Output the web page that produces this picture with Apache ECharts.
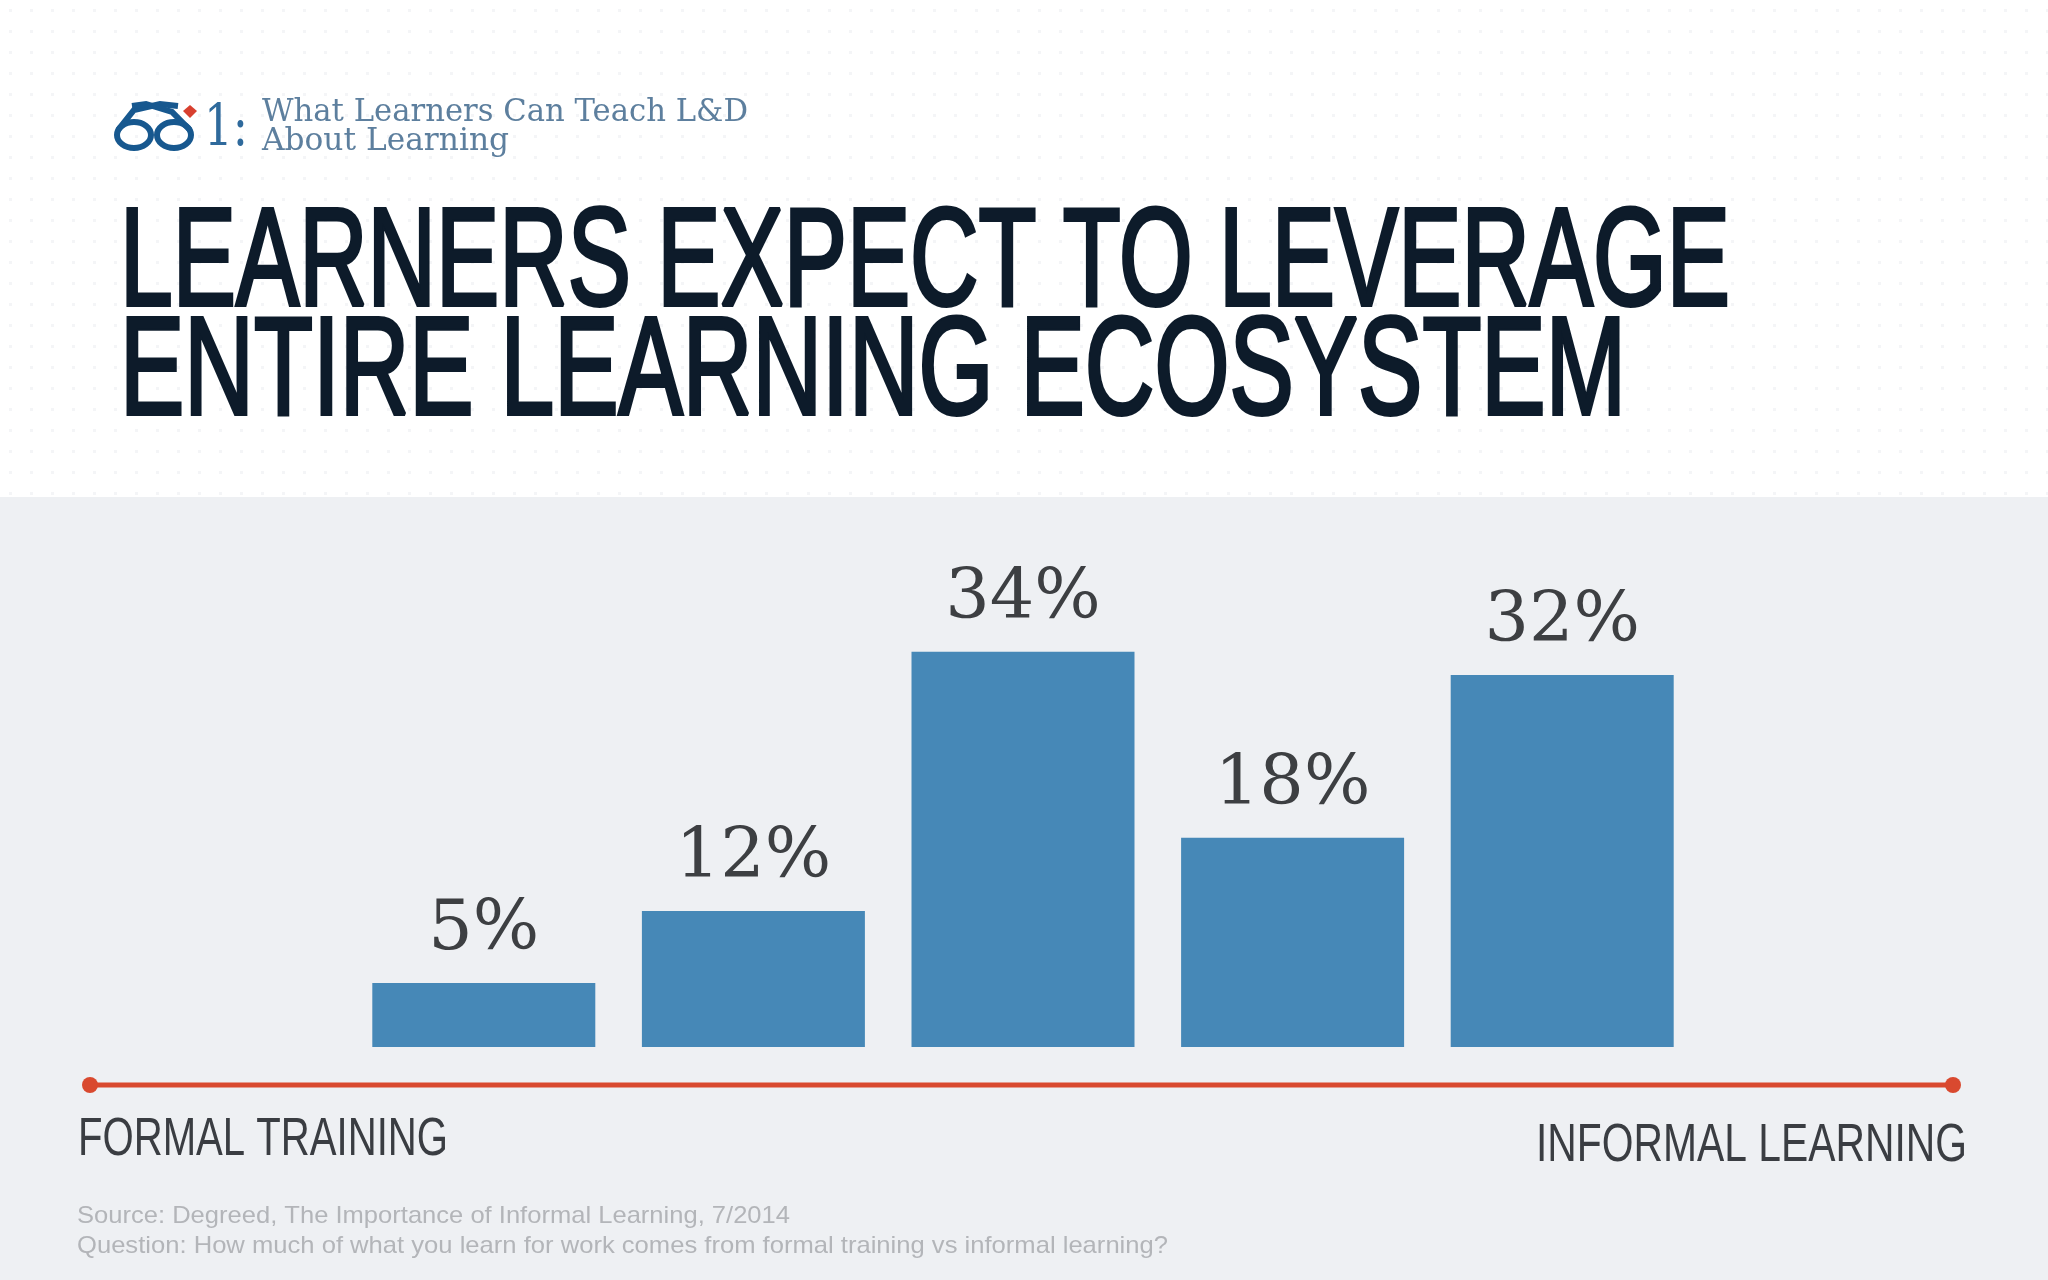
<!DOCTYPE html>
<html>
<head>
<meta charset="utf-8">
<style>
  html, body { margin: 0; padding: 0; background: #fff; }
  #chart { width: 2048px; height: 1280px; }
</style>
<script src="https://cdn.jsdelivr.net/npm/echarts@6/dist/echarts.min.js"></script>
</head>
<body>
<div id="chart"></div>
<script>
const categories = ['Level 1', 'Level 2', 'Level 3', 'Level 4', 'Level 5']
// printed percentages, and the bar lengths as measured on the picture
const shareLabels = [5, 12, 34, 18, 32]
const barLengths = [5.5, 11.7, 34, 18, 32]
const titleLines = ['LEARNERS EXPECT TO LEVERAGE', 'ENTIRE LEARNING ECOSYSTEM']
const headerLines = ['What Learners Can Teach L&D', 'About Learning']
const sourceLines = [
  'Source: Degreed, The Importance of Informal Learning, 7/2014',
  'Question: How much of what you learn for work comes from formal training vs informal learning?',
]

const chart = echarts.init(document.getElementById('chart'))

const blue = '#17588f'
const red = '#d9492f'
const ink = '#0d1b2a'
const sans = '"Liberation Sans", sans-serif'
const serif = '"DejaVu Serif", serif'

// no condensed font is installed, so squeeze the text to the width it has in the picture
const measure = document.createElement('canvas').getContext('2d')
const fitText = (text, font, x, y, width, fill, extraStyle) => {
  measure.font = font
  return {
    type: 'text',
    x,
    y,
    scaleX: width / measure.measureText(text).width,
    style: { text, font, fill, ...extraStyle },
  }
}

// faint dot pattern behind the heading
const dots = document.createElement('canvas')
dots.width = 21
dots.height = 21
const dotCtx = dots.getContext('2d')
dotCtx.fillStyle = '#f4f5f7'
dotCtx.fillRect(9, 9, 3, 3)

const titleStroke = { stroke: ink, lineWidth: 4 }

const option = {
  animation: false,
  backgroundColor: '#ffffff',
  grid: { left: 349, right: 351, top: 582, bottom: 233 },
  xAxis: {
    type: 'category',
    data: categories,
    show: false,
  },
  yAxis: {
    type: 'value',
    min: 0,
    max: 40,
    show: false,
  },
  series: [
    {
      type: 'bar',
      data: barLengths,
      barWidth: 223,
      z: 5,
      itemStyle: { color: '#4688b7' },
      label: {
        show: true,
        position: 'top',
        distance: 17,
        formatter: (p) => shareLabels[p.dataIndex] + '%',
        fontFamily: serif,
        fontSize: 70,
        letterSpacing: -2,
        color: '#3d3f42',
      },
    },
  ],
  graphic: [
    { type: 'rect', z: -11, shape: { x: 0, y: 0, width: 2048, height: 497 }, style: { fill: { image: dots, repeat: 'repeat' } } },
    { type: 'rect', z: -10, shape: { x: 0, y: 497, width: 2048, height: 783 }, style: { fill: '#eef0f3' } },
    // header logo
    { type: 'ellipse', shape: { cx: 134, cy: 135, rx: 17, ry: 13 }, style: { fill: 'none', stroke: blue, lineWidth: 6 } },
    { type: 'ellipse', shape: { cx: 174, cy: 135, rx: 17, ry: 13 }, style: { fill: 'none', stroke: blue, lineWidth: 6 } },
    { type: 'polyline', shape: { points: [[118, 130], [134, 110], [160, 104], [178, 106]] }, style: { fill: 'none', stroke: blue, lineWidth: 6 } },
    { type: 'polyline', shape: { points: [[190, 130], [172, 112], [146, 104], [132, 106]] }, style: { fill: 'none', stroke: blue, lineWidth: 6 } },
    { type: 'polygon', shape: { points: [[190, 105], [197, 111], [190, 118], [183, 111]] }, style: { fill: '#d8402f' } },
    fitText('1:', '58px ' + serif, 204, 101, 44, '#2f6a9c'),
    fitText(headerLines[0], '31px ' + serif, 262, 97, 486, '#5d7f9e'),
    fitText(headerLines[1], '31px ' + serif, 262, 126, 247, '#5d7f9e'),
    // title
    fitText(titleLines[0], '140px ' + sans, 120, 196, 1610, ink, titleStroke),
    fitText(titleLines[1], '140px ' + sans, 120, 305, 1506, ink, titleStroke),
    // formal to informal scale
    { type: 'line', shape: { x1: 90, y1: 1085, x2: 1953, y2: 1085 }, style: { stroke: red, lineWidth: 5 } },
    { type: 'circle', shape: { cx: 90, cy: 1085, r: 8 }, style: { fill: red } },
    { type: 'circle', shape: { cx: 1953, cy: 1085, r: 8 }, style: { fill: red } },
    fitText('FORMAL TRAINING', '54px ' + sans, 78, 1113, 370, '#3a3d42'),
    fitText('INFORMAL LEARNING', '54px ' + sans, 1536, 1119, 431, '#3a3d42'),
    // source
    fitText(sourceLines[0], '24px ' + sans, 77, 1204, 713, '#b3b5b9'),
    fitText(sourceLines[1], '24px ' + sans, 77, 1234, 1091, '#b3b5b9'),
  ],
}

chart.setOption(option)
</script>
</body>
</html>
